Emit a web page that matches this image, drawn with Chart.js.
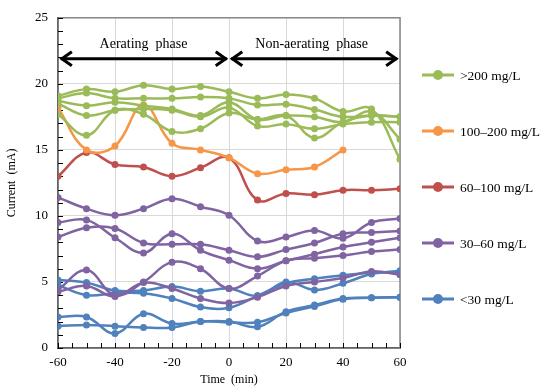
<!DOCTYPE html>
<html>
<head>
<meta charset="utf-8">
<script src="https://cdn.jsdelivr.net/npm/chart.js@4.4.1/dist/chart.umd.min.js"></script>
<style>
  html, body { margin: 0; padding: 0; background: #fff; }
  #wrap { width: 550px; height: 391px; position: relative; }
</style>
</head>
<body>
<div id="wrap"><canvas id="lineChart"></canvas></div>
<script>
// time axis (min)
var times = [-60, -50, -40, -30, -20, -10, 0, 10, 20, 30, 40, 50, 60];
var xTicks = [-60, -40, -20, 0, 20, 40, 60];
var yTicks = [0, 5, 10, 15, 20, 25];

// current readings (mA), one row per sensor
var above200 = [
  [19.1, 19.6, 19.4, 19.9, 19.6, 19.8, 19.4, 18.9, 19.2, 18.9, 17.9, 18.1, 14.3],
  [18.9, 19.3, 18.9, 18.9, 18.9, 19.0, 18.9, 18.4, 18.45, 18.05, 17.5, 17.6, 17.5],
  [18.7, 18.35, 18.6, 18.35, 18.1, 17.6, 18.6, 17.3, 17.6, 17.5, 17.1, 17.9, 15.8],
  [18.5, 17.6, 18.0, 18.1, 18.0, 17.5, 18.2, 16.8, 16.95, 16.6, 16.95, 17.1, 17.1],
  [17.7, 16.1, 18.0, 17.7, 16.4, 16.6, 17.8, 17.3, 17.6, 15.9, 17.1, 17.6, 17.5]
];
var from100to200 = [
  [18.2, 15.0, 15.3, 18.4, 15.5, 15.0, 14.4, 13.2, 13.5, 13.7, 15.0, null, null]
];
var from60to100 = [
  [13.0, 14.8, 13.9, 13.7, 13.0, 13.65, 14.4, 11.2, 11.7, 11.6, 11.95, 11.95, 12.05]
];
var from30to60 = [
  [11.4, 10.55, 10.05, 10.55, 11.3, 10.7, 10.05, 8.1, 8.4, 8.9, 8.3, 9.5, 9.8],
  [9.5, 9.7, 8.35, 7.2, 8.65, 7.4, 6.65, 6.0, 6.6, 7.1, 7.65, 8.0, 8.35],
  [8.4, 9.1, 9.05, 7.95, 7.85, 7.85, 7.4, 6.9, 7.45, 7.95, 8.65, 8.75, 8.85],
  [4.4, 5.9, 4.0, 5.0, 6.5, 6.0, 4.5, 5.45, 6.6, 6.8, 7.0, 7.3, 7.45],
  [4.25, 4.7, 3.9, 4.95, 4.5, 3.75, 3.4, 3.85, 4.7, 5.0, 5.3, 5.8, 5.55]
];
var below30 = [
  [5.15, 4.95, 4.35, 4.35, 4.65, 4.3, 4.5, 3.95, 5.0, 4.4, 4.9, 5.6, 5.85],
  [4.75, 4.0, 4.15, 4.15, 3.75, 3.1, 3.05, 3.95, 4.9, 5.25, 5.5, 5.7, 5.75],
  [2.35, 2.35, 1.1, 2.6, 1.85, 2.0, 2.0, 1.6, 2.75, 3.25, 3.75, 3.8, 3.85],
  [1.65, 1.75, 1.65, 1.55, 1.55, 2.0, 1.95, 1.95, 2.65, 3.15, 3.7, 3.8, 3.85]
];

var groups = [
  { label: ">200 mg/L", color: "#9BBB59", rows: above200 },
  { label: "100\u2013200 mg/L", color: "#F79646", rows: from100to200 },
  { label: "60\u2013100 mg/L", color: "#C0504D", rows: from60to100 },
  { label: "30\u201360 mg/L", color: "#8064A2", rows: from30to60 },
  { label: "<30 mg/L", color: "#4F81BD", rows: below30 }
];

var datasets = [];
groups.forEach(function(g) {
  g.rows.forEach(function(row) {
    datasets.push({
      label: g.label,
      data: times.map(function(t, i) { return { x: t, y: row[i] }; }),
      borderColor: g.color,
      backgroundColor: g.color,
      borderWidth: 2.5,
      pointRadius: 3.5,
      pointBorderWidth: 0,
      pointBackgroundColor: g.color,
      tension: 0.4,
      spanGaps: false,
      fill: false
    });
  });
});

var serif = "'Liberation Serif', 'Times New Roman', serif";

// frame, minor ticks, phase arrows and legend
var extras = {
  id: 'extras',
  beforeDatasetsDraw: function(chart) {
    var c = chart.ctx, a = chart.chartArea;
    var xs = chart.scales.x, ys = chart.scales.y;
    c.save();
    c.strokeStyle = '#868686';
    c.lineWidth = 1.5;
    c.strokeRect(a.left, a.top, a.right - a.left, a.bottom - a.top);
    c.strokeStyle = '#000';
    c.lineWidth = 1;
    for (var v = 0; v <= 25; v++) {
      var py = Math.round(ys.getPixelForValue(v)) + 0.5;
      c.beginPath(); c.moveTo(a.left, py); c.lineTo(a.left + 5, py); c.stroke();
    }
    for (var t = -60; t <= 60; t += 5) {
      var px = Math.round(xs.getPixelForValue(t)) + 0.5;
      c.beginPath(); c.moveTo(px, a.bottom); c.lineTo(px, a.bottom - 5); c.stroke();
    }
    c.restore();
  },
  afterDraw: function(chart) {
    var c = chart.ctx;
    var xs = chart.scales.x, ys = chart.scales.y;
    var ay = ys.getPixelForValue(21.9);
    function arrow(x1, x2) {
      c.beginPath(); c.moveTo(x1, ay); c.lineTo(x2, ay); c.stroke();
      c.beginPath(); c.moveTo(x1 + 11, ay - 7); c.lineTo(x1 + 1, ay); c.lineTo(x1 + 11, ay + 7); c.stroke();
      c.beginPath(); c.moveTo(x2 - 11, ay - 7); c.lineTo(x2 - 1, ay); c.lineTo(x2 - 11, ay + 7); c.stroke();
    }
    c.save();
    c.strokeStyle = '#000';
    c.lineWidth = 3;
    c.lineJoin = 'miter';
    arrow(xs.getPixelForValue(-59), xs.getPixelForValue(-0.8));
    arrow(xs.getPixelForValue(0.8), xs.getPixelForValue(59));
    c.fillStyle = '#000';
    c.font = '14px ' + serif;
    c.textAlign = 'center';
    c.textBaseline = 'middle';
    c.fillText('Aerating  phase', xs.getPixelForValue(-30), ys.getPixelForValue(23));
    c.fillText('Non-aerating  phase', xs.getPixelForValue(29), ys.getPixelForValue(23));

    // legend
    var ly = [75, 131, 187, 243, 299];
    c.font = '13.5px ' + serif;
    c.textAlign = 'left';
    groups.forEach(function(g, i) {
      c.strokeStyle = g.color;
      c.fillStyle = g.color;
      c.lineWidth = 3;
      c.beginPath(); c.moveTo(422, ly[i]); c.lineTo(454, ly[i]); c.stroke();
      c.beginPath(); c.arc(438, ly[i], 5, 0, Math.PI * 2); c.fill();
      c.fillStyle = '#000';
      c.fillText(g.label, 460, ly[i] + 1);
    });
    c.restore();
  }
};

var myLineChart = new Chart(document.getElementById('lineChart'), {
  type: 'line',
  data: { datasets: datasets },
  plugins: [extras],
  options: {
    responsive: true,
    maintainAspectRatio: false,
    animation: false,
    layout: { padding: { left: 5, right: 150, top: 17, bottom: 4 } },
    plugins: { legend: { display: false }, tooltip: { enabled: false } },
    scales: {
      x: {
        type: 'linear',
        min: -60, max: 60,
        afterFit: function(s) { s.height = 39; },
        afterBuildTicks: function(s) { s.ticks = xTicks.map(function(v) { return { value: v }; }); },
        grid: { color: '#D9D9D9', lineWidth: 1, drawTicks: false },
        border: { color: '#000', width: 1.5 },
        ticks: { color: '#000', padding: 7, font: { family: serif, size: 13 } },
        title: { display: true, text: 'Time  (min)', color: '#000', font: { family: serif, size: 12 }, padding: 0 }
      },
      y: {
        min: 0, max: 25,
        afterFit: function(s) { s.width = 53; },
        afterBuildTicks: function(s) { s.ticks = yTicks.map(function(v) { return { value: v }; }); },
        grid: { color: '#D9D9D9', lineWidth: 1, drawTicks: false },
        border: { color: '#000', width: 1.5 },
        ticks: { color: '#000', padding: 10, font: { family: serif, size: 13 } },
        title: { display: true, text: 'Current  (mA)', color: '#000', font: { family: serif, size: 12 }, padding: 0 }
      }
    }
  }
});
</script>
</body>
</html>
